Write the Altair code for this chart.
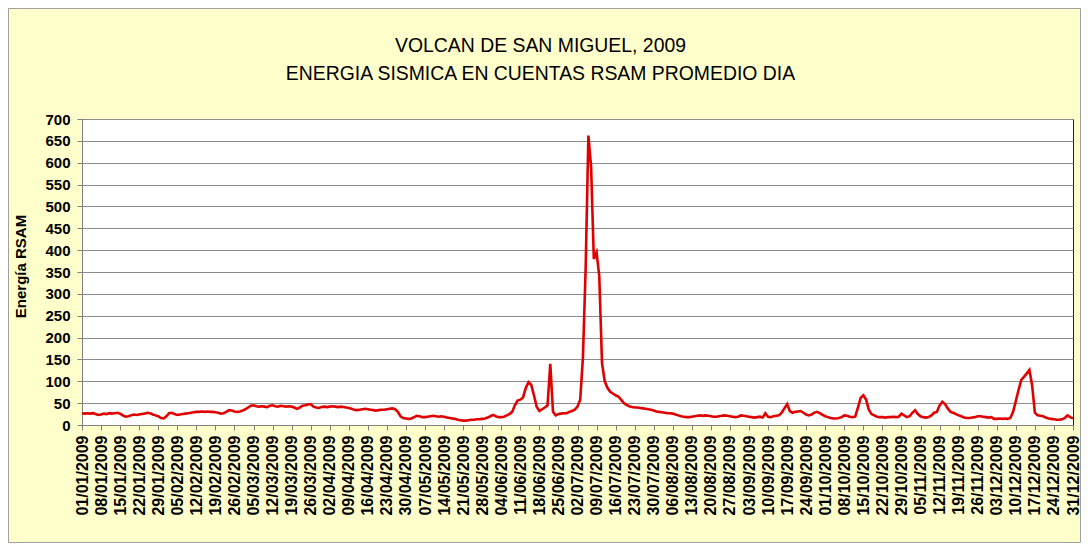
import altair as alt
import pandas as pd

# Daily average RSAM counts, 2009 (one row per week)
rsam = [
    27, 26, 27, 26, 27, 25, 23,
    24, 26, 25, 27, 26, 27, 28,
    26, 22, 19, 20, 22, 24, 23,
    24, 25, 26, 28, 27, 24, 22,
    20, 16, 15, 20, 27, 28, 25,
    23, 24, 25, 26, 27, 28, 29,
    30, 30, 31, 30, 31, 30, 30,
    29, 28, 26, 27, 30, 34, 33,
    31, 30, 31, 33, 36, 40, 44,
    45, 43, 42, 43, 42, 41, 44,
    45, 43, 42, 44, 43, 42, 43,
    42, 40, 37, 40, 44, 45, 47,
    48, 42, 40, 39, 41, 42, 41,
    42, 43, 42, 41, 42, 41, 40,
    39, 37, 35, 34, 35, 36, 37,
    36, 35, 34, 33, 34, 35, 35,
    36, 37, 38, 36, 30, 20, 16,
    15, 14, 15, 18, 21, 20, 18,
    18, 19, 20, 21, 20, 19, 20,
    19, 17, 16, 15, 14, 12, 11,
    10, 10, 11, 12, 12, 13, 13,
    14, 15, 17, 20, 23, 20, 18,
    18, 19, 22, 25, 30, 45, 56,
    58, 63, 85, 98, 92, 68, 42,
    32, 36, 40, 45, 140, 30, 22,
    25, 26, 27, 27, 30, 32, 35,
    42, 58, 155, 360, 662, 590, 380,
    395, 340, 142, 100, 85, 76, 72,
    68, 65, 58, 50, 46, 43, 41,
    40, 40, 39, 38, 37, 36, 35,
    33, 31, 30, 29, 28, 27, 27,
    26, 24, 22, 20, 19, 18, 18,
    19, 20, 21, 22, 21, 22, 21,
    20, 19, 19, 20, 21, 22, 21,
    20, 19, 18, 19, 22, 21, 20,
    19, 18, 17, 18, 19, 17, 27,
    19, 18, 20, 21, 22, 28, 38,
    48, 32, 28, 30, 31, 32, 28,
    24, 22, 24, 28, 30, 27, 23,
    20, 18, 16, 15, 15, 16, 18,
    22, 21, 19, 18, 19, 40, 62,
    68, 58, 35, 25, 22, 19, 18,
    18, 17, 18, 18, 19, 18, 19,
    26, 22, 18, 20, 28, 34, 25,
    20, 18, 17, 18, 22, 28, 30,
    45, 53, 48, 38, 30, 28, 25,
    22, 20, 17, 16, 16, 17, 18,
    20, 20, 19, 18, 17, 18, 14,
    14, 15, 14, 15, 14, 16, 30,
    55, 80, 103, 110, 118, 126, 90,
    28, 22, 21, 20, 17, 15, 14,
    13, 12, 12, 13, 16, 22, 18,
    15,
]

tick_labels = [
    "01/01/2009", "08/01/2009", "15/01/2009", "22/01/2009", "29/01/2009",
    "05/02/2009", "12/02/2009", "19/02/2009", "26/02/2009", "05/03/2009",
    "12/03/2009", "19/03/2009", "26/03/2009", "02/04/2009", "09/04/2009",
    "16/04/2009", "23/04/2009", "30/04/2009", "07/05/2009", "14/05/2009",
    "21/05/2009", "28/05/2009", "04/06/2009", "11/06/2009", "18/06/2009",
    "25/06/2009", "02/07/2009", "09/07/2009", "16/07/2009", "23/07/2009",
    "30/07/2009", "06/08/2009", "13/08/2009", "20/08/2009", "27/08/2009",
    "03/09/2009", "10/09/2009", "17/09/2009", "24/09/2009", "01/10/2009",
    "08/10/2009", "15/10/2009", "22/10/2009", "29/10/2009", "05/11/2009",
    "12/11/2009", "19/11/2009", "26/11/2009", "03/12/2009", "10/12/2009",
    "17/12/2009", "24/12/2009", "31/12/2009",
]

y_ticks = list(range(0, 701, 50))

title_lines = ["VOLCAN DE SAN MIGUEL, 2009", "ENERGIA SISMICA EN CUENTAS RSAM PROMEDIO DIA"]

dates = pd.date_range("2009-01-01", periods=len(rsam), freq="D").strftime("%d/%m/%Y").tolist()
df = pd.DataFrame({"day": list(range(len(rsam))), "fecha": dates, "rsam": rsam})

tick_days = [7 * i for i in range(len(tick_labels))]
label_expr = "[" + ",".join("'" + t + "'" for t in tick_labels) + "][round(datum.value / 7)]"

FONT = "Liberation Sans"
W, H = 991, 306
PAD = {"left": 74, "top": 111, "right": 8, "bottom": 118}

line = alt.Chart(df).mark_line(color="#E00000", strokeWidth=2.6).encode(
    x=alt.X(
        "day:Q",
        scale=alt.Scale(domain=[0, 364], nice=False, zero=False),
        axis=alt.Axis(
            values=tick_days,
            labelExpr=label_expr,
            labelAngle=270,
            labelFont=FONT,
            labelFontSize=16,
            labelFontWeight="bold",
            labelColor="#000000",
            labelOverlap=False,
            labelFlush=False,
            labelPadding=5,
            tickSize=5,
            tickColor="#808080",
            domainColor="#808080",
            grid=False,
            title=None,
        ),
    ),
    y=alt.Y(
        "rsam:Q",
        scale=alt.Scale(domain=[0, 700], nice=False),
        axis=alt.Axis(
            values=y_ticks,
            labelFont=FONT,
            labelFontSize=15,
            labelFontWeight="bold",
            labelColor="#000000",
            labelPadding=7,
            tickSize=5,
            tickColor="#808080",
            domainColor="#808080",
            grid=True,
            gridColor="#8C8C8C",
            gridWidth=1,
            title="Energía RSAM",
            titleFont=FONT,
            titleFontSize=15,
            titleFontWeight="bold",
            titleColor="#000000",
            titlePadding=16,
            titleY=147,
        ),
    ),
)

frame = alt.Chart(alt.Data(values=[{"k": 1}])).mark_rect(
    fillOpacity=0, stroke="#A0A0A0", strokeWidth=1, clip=False
).encode(
    x=alt.value(-PAD["left"] + 0.5),
    x2=alt.value(W + PAD["right"] - 0.5),
    y=alt.value(-PAD["top"] + 0.5),
    y2=alt.value(H + PAD["bottom"] - 0.5),
)

chart = alt.layer(frame, line).properties(
    width=W,
    height=H,
    padding=PAD,
    autosize=alt.AutoSizeParams(type="none"),
    background="#FFFFCC",
    title=alt.TitleParams(
        text=title_lines,
        font=FONT,
        fontSize=19.4,
        fontWeight="normal",
        color="#000000",
        anchor="middle",
        dx=-37,
        offset=-76,
        lineHeight=28,
    ),
).configure_view(stroke="#222222", strokeWidth=1, fill="#FFFFFF")

chart.save("out.html", embed_options={"renderer": "svg", "actions": False})
